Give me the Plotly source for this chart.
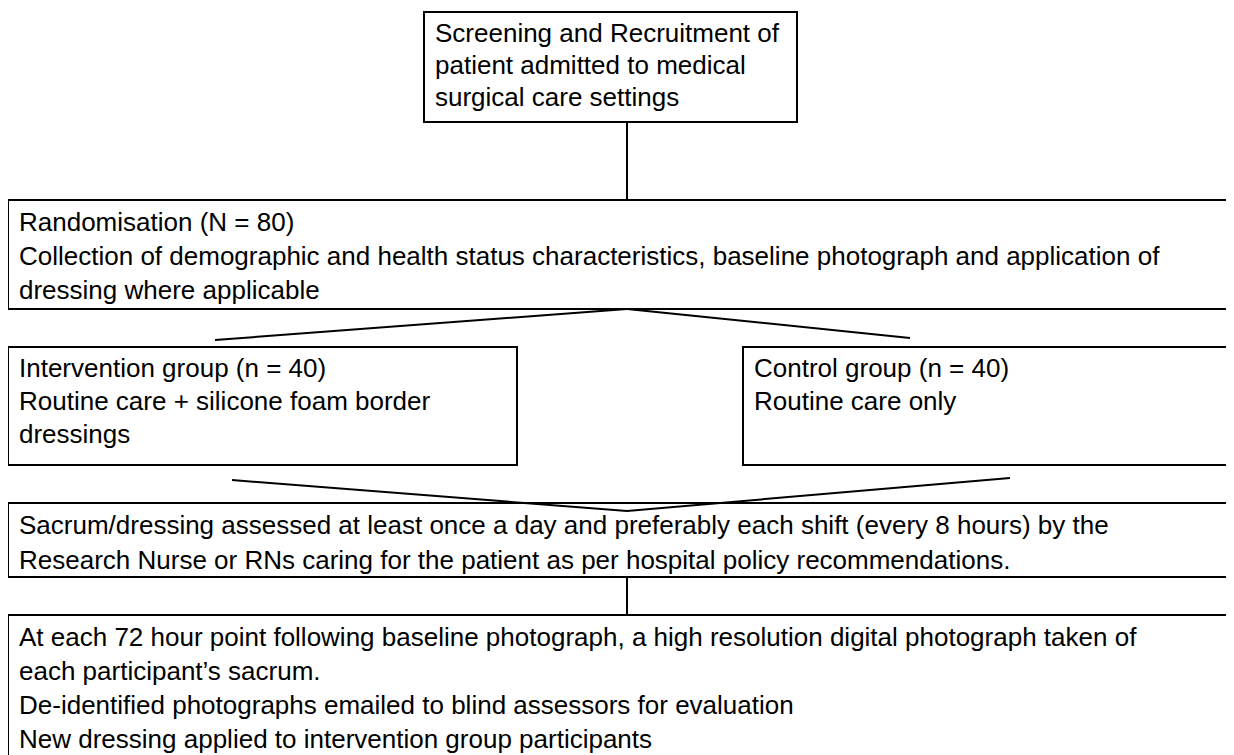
import plotly.graph_objects as go

# ---- content (flowchart node texts) ----
node_ids = ["screen", "random", "interv", "control", "assess", "photo"]
node_lines = [
    ["Screening and Recruitment of", "patient admitted to medical", "surgical care settings"],
    ["Randomisation (N = 80)",
     "Collection of demographic and health status characteristics, baseline photograph and application of",
     "dressing where applicable"],
    ["Intervention group (n = 40)", "Routine care + silicone foam border", "dressings"],
    ["Control group (n = 40)", "Routine care only"],
    ["Sacrum/dressing assessed at least once a day and preferably each shift (every 8 hours) by the",
     "Research Nurse or RNs caring for the patient as per hospital policy recommendations."],
    ["At each 72 hour point following baseline photograph, a high resolution digital photograph taken of",
     "each participant\u2019s sacrum.",
     "De-identified photographs emailed to blind assessors for evaluation",
     "New dressing applied to intervention group participants"],
]
edges = [("screen", "random"), ("random", "interv"), ("random", "control"),
         ("interv", "assess"), ("control", "assess"), ("assess", "photo")]

# ---- layout (pixel geometry in page coordinates, y downward) ----
W, H = 1234, 755
PAGE_MARGIN = 8  # default body margin of the html page
box_geom = {  # x0, x1, y0, y1
    "screen":  (424, 797, 12, 122),
    "random":  (8, 1260, 200, 309),
    "interv":  (8, 517, 347, 465),
    "control": (743, 1260, 347, 465),
    "assess":  (8, 1260, 503, 577),
    "photo":   (8, 1260, 615, 790),
}
first_line = {"screen": 21, "random": 22, "interv": 21, "control": 21, "assess": 22, "photo": 22}
line_step = {"screen": 32, "random": 34, "interv": 33, "control": 33, "assess": 35, "photo": 34}
trunk_x = 627
edge_pts = {
    ("screen", "random"): ((trunk_x, 122), (trunk_x, 200)),
    ("random", "interv"): ((trunk_x, 309), (215, 340)),
    ("random", "control"): ((trunk_x, 309), (910, 338)),
    ("interv", "assess"): ((232, 480), (trunk_x, 511)),
    ("control", "assess"): ((1010, 478), (trunk_x, 511)),
    ("assess", "photo"): ((trunk_x, 577), (trunk_x, 615)),
}
FONT = dict(family="Liberation Sans, Arial, sans-serif", size=26, color="black")

fig = go.Figure()
shapes = []
annotations = []
for nid, lines in zip(node_ids, node_lines):
    x0, x1, y0, y1 = box_geom[nid]
    shapes.append(dict(type="rect", xref="x", yref="y", x0=x0, x1=x1, y0=y0, y1=y1,
                       line=dict(color="black", width=2), fillcolor="rgba(0,0,0,0)"))
    for i, ln in enumerate(lines):
        annotations.append(dict(xref="x", yref="y", x=x0 + 10,
                                y=y0 + first_line[nid] + i * line_step[nid],
                                text=ln, showarrow=False, xanchor="left", yanchor="middle",
                                align="left", font=FONT, borderpad=0))
for e in edges:
    (ax, ay), (bx, by) = edge_pts[e]
    shapes.append(dict(type="line", xref="x", yref="y", x0=ax, y0=ay, x1=bx, y1=by,
                       line=dict(color="black", width=2)))

# figure placed at the page's body margin: axis ranges offset so that
# page pixel coordinates map 1:1; the overflow past the window is cut off
fig.update_layout(
    width=W, height=H,
    margin=dict(l=0, r=0, t=0, b=0),
    paper_bgcolor="white", plot_bgcolor="white",
    xaxis=dict(range=[PAGE_MARGIN, W + PAGE_MARGIN], visible=False, fixedrange=True),
    yaxis=dict(range=[H + PAGE_MARGIN, PAGE_MARGIN], visible=False, fixedrange=True),
    shapes=shapes, annotations=annotations, showlegend=False,
)
fig.write_html("out.html", config={"displayModeBar": False})
